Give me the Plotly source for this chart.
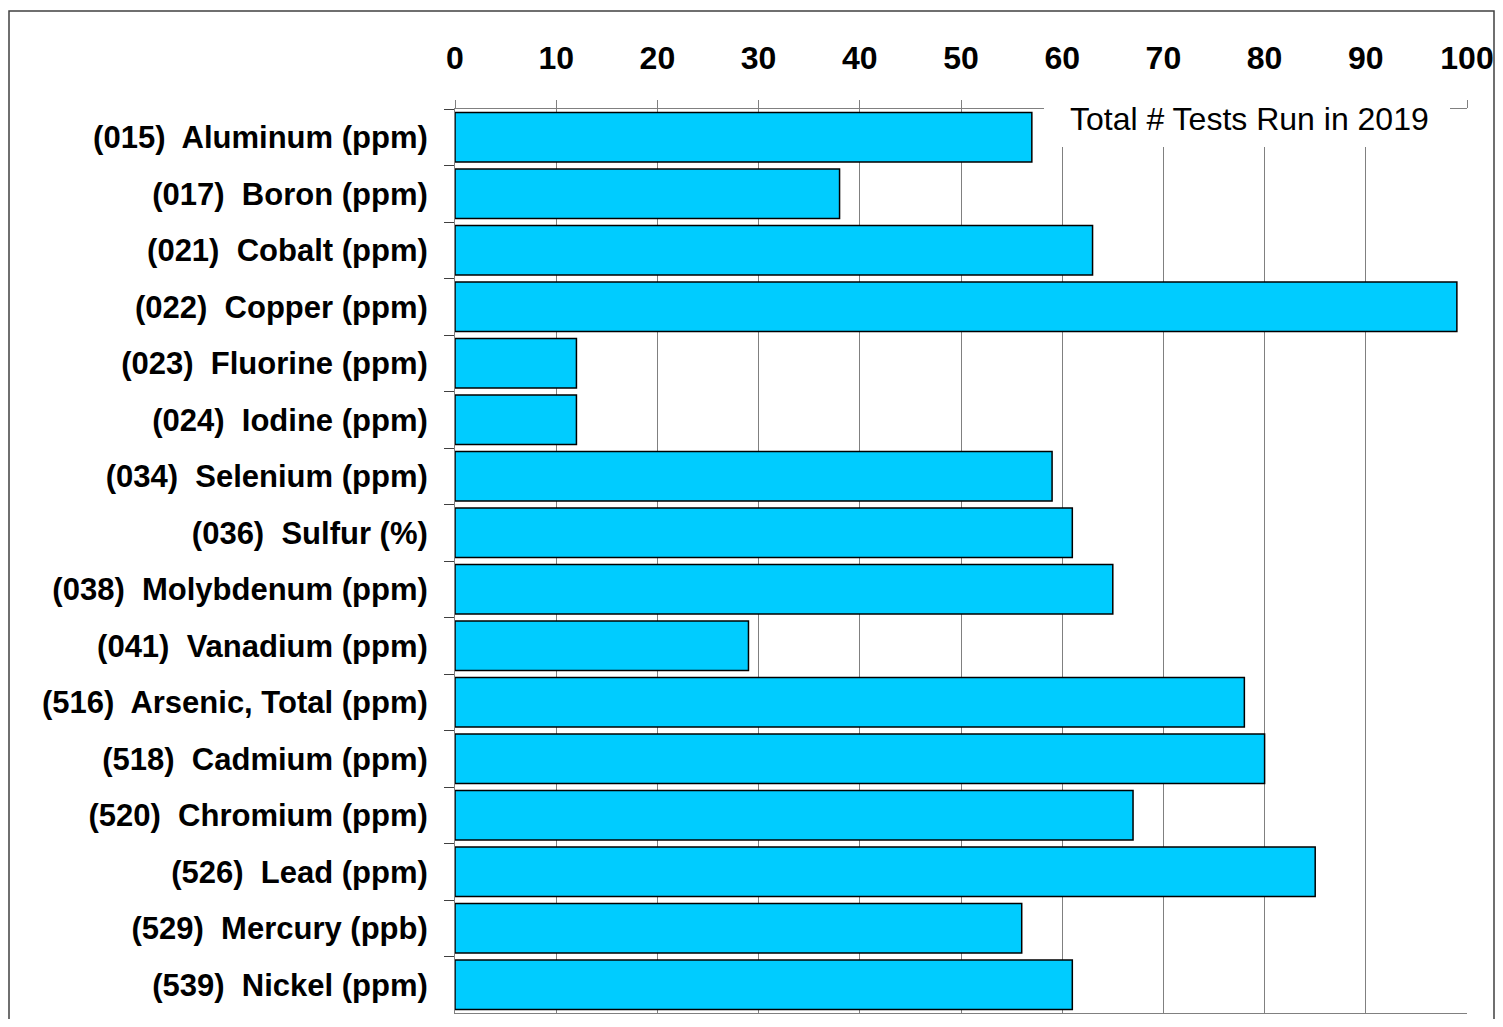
import plotly.graph_objects as go

# === Data ===
tests = [
    "(015)  Aluminum (ppm)",
    "(017)  Boron (ppm)",
    "(021)  Cobalt (ppm)",
    "(022)  Copper (ppm)",
    "(023)  Fluorine (ppm)",
    "(024)  Iodine (ppm)",
    "(034)  Selenium (ppm)",
    "(036)  Sulfur (%)",
    "(038)  Molybdenum (ppm)",
    "(041)  Vanadium (ppm)",
    "(516)  Arsenic, Total (ppm)",
    "(518)  Cadmium (ppm)",
    "(520)  Chromium (ppm)",
    "(526)  Lead (ppm)",
    "(529)  Mercury (ppb)",
    "(539)  Nickel (ppm)",
]
counts = [57, 38, 63, 99, 12, 12, 59, 61, 65, 29, 78, 80, 67, 85, 56, 61]
x_ticks = list(range(0, 101, 10))

# === Geometry (page pixels) ===
W, H = 1503, 1027
OFF = 8  # default body margin of the html page
L, R, T, B = 455, 1467, 109, 1013
pw, ph = R - L, B - T

def px(x):
    return (x - L) / pw

def py(y):
    return (B - y) / ph

FONT = "Arial, Liberation Sans, sans-serif"

fig = go.Figure()
fig.add_trace(go.Bar(
    y=tests, x=counts, orientation="h",
    marker=dict(color="#00CCFF", line=dict(color="black", width=1.5)),
    showlegend=False,
))

fig.update_layout(
    width=W - 2 * OFF, height=H - 2 * OFF,
    margin=dict(l=L - OFF, r=W - R - OFF, t=T - OFF, b=H - B - OFF, autoexpand=False),
    paper_bgcolor="white", plot_bgcolor="white",
    bargap=0.12,
    font=dict(family=FONT, color="black"),
    xaxis=dict(
        side="top", range=[0, 100], tickvals=x_ticks,
        tickfont=dict(size=32, family=FONT, weight="bold"),
        showgrid=True, gridcolor="#808080", gridwidth=1,
        showline=True, linecolor="#808080", linewidth=1, mirror=True,
        ticks="outside", ticklen=8, tickcolor="#808080",
        ticklabelstandoff=18, zeroline=False, fixedrange=True,
        automargin=False,
    ),
    yaxis=dict(
        autorange="reversed", categoryorder="array", categoryarray=tests,
        tickfont=dict(size=31, family=FONT, weight="bold"),
        showline=True, linecolor="#808080", linewidth=1,
        ticks="outside", ticklen=10, tickcolor="#404040", tickson="boundaries",
        ticklabelstandoff=20, showgrid=False, fixedrange=True,
        automargin=False,
    ),
)

# white box behind the in-plot label
fig.add_shape(type="rect", xref="paper", yref="paper",
              x0=px(1044), x1=px(1450), y0=py(147), y1=py(99),
              fillcolor="white", line=dict(width=0), layer="above")
fig.add_annotation(text="Total # Tests Run in 2019", xref="paper", yref="paper",
                   x=px(1431), y=py(119), xanchor="right", yanchor="middle",
                   showarrow=False, font=dict(size=32, family=FONT, color="black"))

# outer frame
fig.add_shape(type="rect", xref="paper", yref="paper",
              x0=px(9), x1=px(1494), y0=py(1030), y1=py(11),
              line=dict(color="#404040", width=1.5), layer="above")

fig.write_html("out.html")
